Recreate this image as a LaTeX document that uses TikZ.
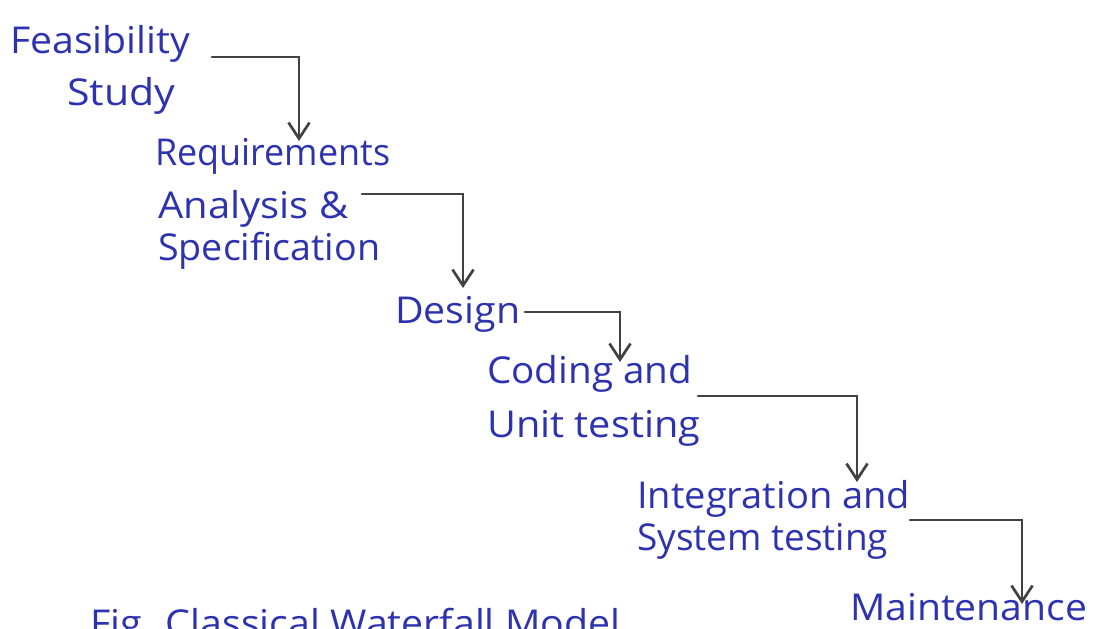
\documentclass[tikz,border=0pt]{standalone}
\usepackage{fontspec}
\setmainfont{Open Sans}
\usetikzlibrary{arrows.meta}
\definecolor{ink}{RGB}{45,50,175}
\definecolor{pencil}{RGB}{65,65,70}
% set a line of lettering to a given width, keeping its height
\newcommand{\hand}[2]{\resizebox{#1pt}{\height}{#2}}
\begin{document}
\begin{tikzpicture}[x=1pt,y=-1pt,
  stage/.style={anchor=base west, inner sep=0pt, text=ink,
                font=\fontsize{37}{40}\selectfont},
  flow/.style={draw=pencil, line width=2.7pt, line cap=round,
               -{Straight Barb[length=16pt,width=21pt,line width=2.7pt]}}]
\fill[white] (0,0) rectangle (1095,629);
\useasboundingbox (0,0) rectangle (1095,629);
\clip (0,0) rectangle (1095,629);

% phases of the waterfall
\node[stage] (feas)   at (10,53)   {\hand{180}{Feasibility}};
\node[stage] (feasB)  at (67,105)  {\hand{108}{Study}};
\node[stage] (req)    at (155,165) {\hand{235}{Requirements}};
\node[stage] (reqB)   at (158,218) {\hand{190}{Analysis \&}};
\node[stage] (reqC)   at (158,260) {\hand{222}{Specification}};
\node[stage] (design) at (395,323) {\hand{125}{Design}};
\node[stage] (code)   at (487,383) {\hand{205}{Coding and}};
\node[stage] (codeB)  at (487,437) {\hand{213}{Unit testing}};
\node[stage] (integ)  at (637,508) {\hand{273}{Integration and}};
\node[stage] (integB) at (637,550) {\hand{251}{System testing}};
\node[stage] (maint)  at (850,620) {\hand{237}{Maintenance}};

% caption along the lower edge
\node[stage] (caption) at (90,636) {\hand{530}{Fig. Classical Waterfall Model}};

% step-down connectors
\draw[flow] ([shift={(202,4)}]feas.base west)   -| ([shift={(144,-24)}]req.base west);
\draw[flow] ([shift={(204,-24)}]reqB.base west) -| ([shift={(68,-35)}]design.base west);
\draw[flow] ([shift={(130,-11)}]design.base west) -| ([shift={(133,-21)}]code.base west);
\draw[flow] ([shift={(211,13)}]code.base west)  -| ([shift={(220,-26)}]integ.base west);
\draw[flow] ([shift={(273,-30)}]integB.base west) -| ([shift={(172,-16)}]maint.base west);
\end{tikzpicture}
\end{document}
